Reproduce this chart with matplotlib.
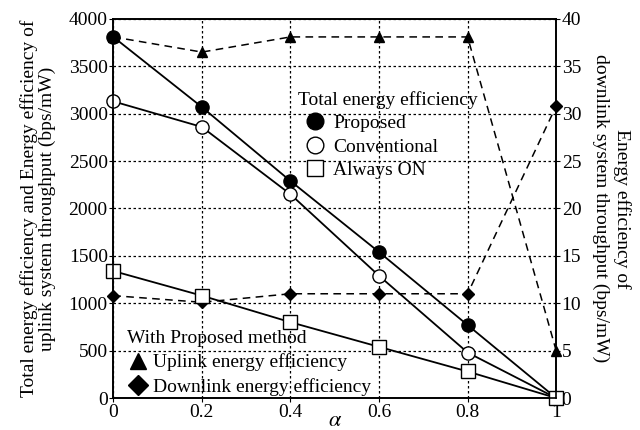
import matplotlib.pyplot as plt
from matplotlib.lines import Line2D

plt.rcParams['font.family'] = ['Liberation Serif', 'DejaVu Serif']
plt.rcParams['mathtext.fontset'] = 'stix'

alpha = [0, 0.2, 0.4, 0.6, 0.8, 1.0]
proposed = [3810, 3070, 2290, 1540, 770, 0]
conventional = [3130, 2860, 2150, 1290, 480, 0]
always_on = [1340, 1080, 800, 540, 280, 0]
uplink = [38.1, 36.5, 38.1, 38.1, 38.1, 5.0]
downlink = [10.8, 10.1, 11.0, 11.0, 11.0, 30.8]

FS = 14

fig = plt.figure(figsize=(6.4, 4.3), dpi=100)
ax = fig.add_axes([0.177, 0.0744, 0.692, 0.8816])
ax2 = ax.twinx()
ax.set_zorder(ax2.get_zorder() + 1)
ax.patch.set_visible(False)

# right axis: dashed lines
ax2.plot(alpha, uplink, 'k--', marker='^', ms=7, lw=1.1, dashes=(5, 3.5), clip_on=False)
ax2.plot(alpha, downlink, 'k--', marker='D', ms=6.5, lw=1.1, dashes=(5, 3.5), clip_on=False)
ax2.set_ylim(0, 40)
ax2.set_yticks(range(0, 41, 5))
ax2.set_ylabel('Energy efficiency of\ndownlink system throughput (bps/mW)',
               rotation=270, labelpad=36, fontsize=FS, linespacing=1.35)

# left axis: solid lines
ax.plot(alpha, proposed, 'k-', marker='o', ms=9.5, mfc='black', lw=1.3, clip_on=False)
ax.plot(alpha, conventional, 'k-', marker='o', ms=9.5, mfc='white', lw=1.3, clip_on=False)
ax.plot(alpha, always_on, 'k-', marker='s', ms=9.5, mfc='white', lw=1.3, clip_on=False)
ax.set_xlim(0, 1)
ax.set_ylim(0, 4000)
ax.set_xticks(alpha)
ax.set_xticklabels(['0', '0.2', '0.4', '0.6', '0.8', '1'])
ax.set_yticks(range(0, 4001, 500))
ax.set_xlabel(r'$\alpha$', fontsize=16, labelpad=-6)
ax.set_ylabel('Total energy efficiency and Energy efficiency of\nuplink system throughput (bps/mW)',
              fontsize=FS, linespacing=1.05, labelpad=9)
ax.grid(True, color='black', linestyle=(0, (2, 2)), linewidth=0.9)

for a in (ax, ax2):
    a.tick_params(labelsize=FS, direction='out', length=3, pad=1)
    for s in a.spines.values():
        s.set_linewidth(1.2)

h1 = [Line2D([], [], color='k', marker='o', ms=12, mfc='black', ls='none'),
      Line2D([], [], color='k', marker='o', ms=12, mfc='white', ls='none'),
      Line2D([], [], color='k', marker='s', ms=12, mfc='white', ls='none')]
leg1 = ax.legend(h1, ['Proposed', 'Conventional', 'Always ON'], title='Total energy efficiency',
                 loc='upper left', bbox_to_anchor=(0.4176, 0.81), frameon=False,
                 fontsize=FS, title_fontsize=FS, handletextpad=0.05, labelspacing=0.3,
                 borderpad=0, borderaxespad=0, handlelength=1.75)
leg1._legend_box.align = 'left'
ax.add_artist(leg1)

h2 = [Line2D([], [], color='k', marker='^', ms=12, ls='none'),
      Line2D([], [], color='k', marker='D', ms=10, ls='none')]
leg2 = ax.legend(h2, ['Uplink energy efficiency', 'Downlink energy efficiency'],
                 title='With Proposed method', loc='upper left', bbox_to_anchor=(0.0316, 0.18),
                 frameon=False, fontsize=FS, title_fontsize=FS, handletextpad=0.2,
                 labelspacing=0.35, borderpad=0, borderaxespad=0, handlelength=1.13)
leg2._legend_box.align = 'left'

fig.savefig('out.png', dpi=100)
